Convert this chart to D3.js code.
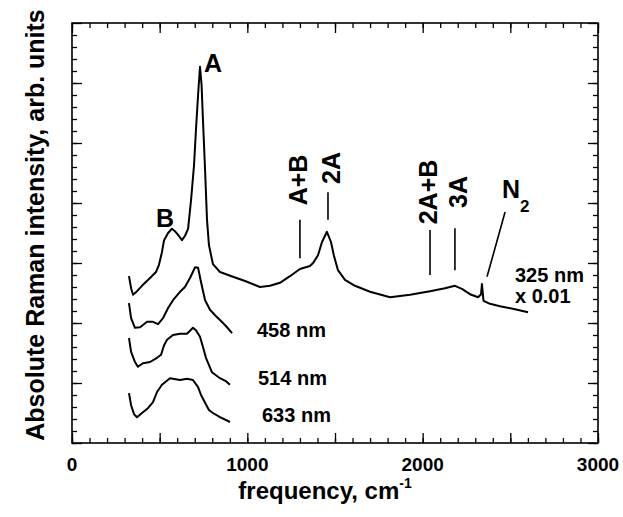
<!DOCTYPE html>
<html><head><meta charset="utf-8">
<script src="https://cdn.jsdelivr.net/npm/d3@7"></script>
<style>
html,body{margin:0;padding:0;background:#fff;}
svg text{font-family:"Liberation Sans",Arial,Helvetica,sans-serif;font-weight:bold;fill:#000;}
</style></head>
<body><svg id="c" width="623" height="517"></svg>
<script>
// ---- data (frequency in cm-1, intensity in arb. units) ----
const freq325 = [325,337,348,371,399,445,479,496,513,525,548,570,587,610,627,644,662,679,696,707,719,730,739,747,759,770,781,804,844,918,987,1072,1129,1186,1243,1300,1357,1375,1403,1426,1454,1477,1494,1517,1557,1614,1700,1814,1928,2042,2127,2184,2224,2270,2316,2333,2338,2347,2384,2441,2527,2601];
const int325  = [2.78,2.58,2.47,2.53,2.62,2.75,2.85,2.97,3.18,3.38,3.50,3.57,3.53,3.45,3.38,3.45,3.57,4.05,4.63,5.22,5.80,6.27,5.97,5.38,4.55,3.72,3.30,2.98,2.85,2.77,2.70,2.60,2.62,2.67,2.78,2.90,2.95,3.00,3.13,3.35,3.52,3.35,3.12,2.88,2.72,2.62,2.52,2.43,2.47,2.53,2.58,2.62,2.57,2.48,2.43,2.48,2.65,2.37,2.32,2.28,2.23,2.18];

const freq458 = [325,337,359,388,428,462,491,519,548,576,616,644,673,702,719,736,759,787,816,844,878,913];
const int458  = [2.33,2.08,1.92,1.93,2.02,2.02,1.98,2.08,2.25,2.38,2.52,2.60,2.75,2.93,2.92,2.68,2.38,2.22,2.13,2.05,1.95,1.83];

const freq514 = [325,337,359,376,405,445,485,508,525,542,576,616,656,690,707,730,747,764,798,844,878,901];
const int514  = [1.75,1.52,1.35,1.27,1.33,1.35,1.42,1.47,1.63,1.72,1.80,1.82,1.82,1.92,1.88,1.77,1.60,1.42,1.18,1.08,1.03,0.97];

const freq633 = [325,337,354,371,399,433,462,485,513,559,616,656,690,719,736,759,781,804,844,901];
const int633  = [0.83,0.63,0.48,0.43,0.50,0.58,0.68,0.85,0.97,1.08,1.05,1.07,1.05,0.93,0.80,0.67,0.55,0.50,0.43,0.35];

const xTickLabels = ["0","1000","2000","3000"];
const xTickValues = [0,1000,2000,3000];

// assignment markers: label, frequency at bottom/top, intensity bottom/top
const markLabels = ["A+B","2A","2A+B","3A","N2"];
const markFreqLow  = [1300,1460,2042,2184,2367];
const markFreqHigh = [1300,1460,2042,2184,2470];
const markIntLow   = [3.08,3.72,2.80,2.88,2.77];
const markIntHigh  = [3.72,4.18,3.55,3.58,3.85];

// ---- layout ----
const svg = d3.select("#c");
const L = 72, R = 598, T = 23, B = 443;
const x = d3.scaleLinear().domain([0,3000]).range([L,R]);
const y = d3.scaleLinear().domain([0,7]).range([B,T]);

const g = svg.append("g");

// axes with inward ticks
function tickAxis(axisFn, scale, major, minor, len, lenMinor, transform){
  const a1 = g.append("g").attr("transform",transform)
     .call(axisFn(scale).tickValues(minor).tickSize(-lenMinor).tickFormat(""));
  const a2 = g.append("g").attr("transform",transform)
     .call(axisFn(scale).tickValues(major).tickSize(-len).tickFormat(""));
  [a1,a2].forEach(a=>{a.select(".domain").remove(); a.selectAll("line").attr("stroke","#000").attr("stroke-width",1.3);});
}
const xMajor = d3.range(0,3001,500), xMinor = d3.range(0,3001,100);
const yMajor = d3.range(0,7.01,1), yMinor = d3.range(0,35).map(i=>i*0.2);
tickAxis(d3.axisBottom, x, xMajor, xMinor, 10, 5, `translate(0,${B})`);
tickAxis(d3.axisTop, x, xMajor, xMinor, 10, 5, `translate(0,${T})`);
tickAxis(d3.axisLeft, y, yMajor, yMinor, 10, 5, `translate(${L},0)`);
tickAxis(d3.axisRight, y, yMajor, yMinor, 10, 5, `translate(${R},0)`);

g.append("rect").attr("x",L).attr("y",T).attr("width",R-L).attr("height",B-T)
 .attr("fill","none").attr("stroke","#000").attr("stroke-width",1.6);

// tick labels
g.selectAll(".xl").data(xTickValues).enter().append("text")
 .attr("x",d=>x(d)).attr("y",471).attr("text-anchor","middle")
 .attr("font-size",19).text((d,i)=>xTickLabels[i]);

// axis titles
const xt = g.append("text").attr("x",325).attr("y",499).attr("text-anchor","middle").attr("font-size",24);
xt.append("tspan").text("frequency, cm");
xt.append("tspan").attr("font-size",14).attr("dy",-11).text("-1");

g.append("text").attr("transform","translate(44,225) rotate(-90)")
 .attr("text-anchor","middle").attr("font-size",25)
 .text("Absolute Raman intensity, arb. units");

// spectra
const line = d3.line().x(d=>x(d[0])).y(d=>y(d[1]));
[[freq325,int325],[freq458,int458],[freq514,int514],[freq633,int633]].forEach(([f,v])=>{
  g.append("path").datum(f.map((d,i)=>[d,v[i]])).attr("d",line)
   .attr("fill","none").attr("stroke","#000").attr("stroke-width",2)
   .attr("stroke-linejoin","round");
});

// marker lines
markLabels.forEach((m,i)=>{
  g.append("line").attr("x1",x(markFreqLow[i])).attr("x2",x(markFreqHigh[i]))
   .attr("y1",y(markIntLow[i])).attr("y2",y(markIntHigh[i]))
   .attr("stroke","#000").attr("stroke-width",1.6);
});

// peak labels
g.append("text").attr("x",204).attr("y",72).attr("font-size",25).text("A");
g.append("text").attr("x",156).attr("y",227).attr("font-size",25).text("B");
[["A+B",307,180],["2A",340,168],["2A+B",437,192],["3A",467,192]].forEach(([t,px,py])=>{
  g.append("text").attr("transform",`translate(${px},${py}) rotate(-90)`)
   .attr("text-anchor","middle").attr("font-size",25).text(t);
});
g.append("text").attr("x",502).attr("y",198).attr("font-size",25).text("N");
g.append("text").attr("x",520).attr("y",212).attr("font-size",17).text("2");

// wavelength labels
[["325 nm",515,282],["x 0.01",515,303],["458 nm",257,337],["514 nm",258,385],["633 nm",262,422]].forEach(([t,px,py])=>{
  g.append("text").attr("x",px).attr("y",py).attr("font-size",20).text(t);
});
</script></body></html>
